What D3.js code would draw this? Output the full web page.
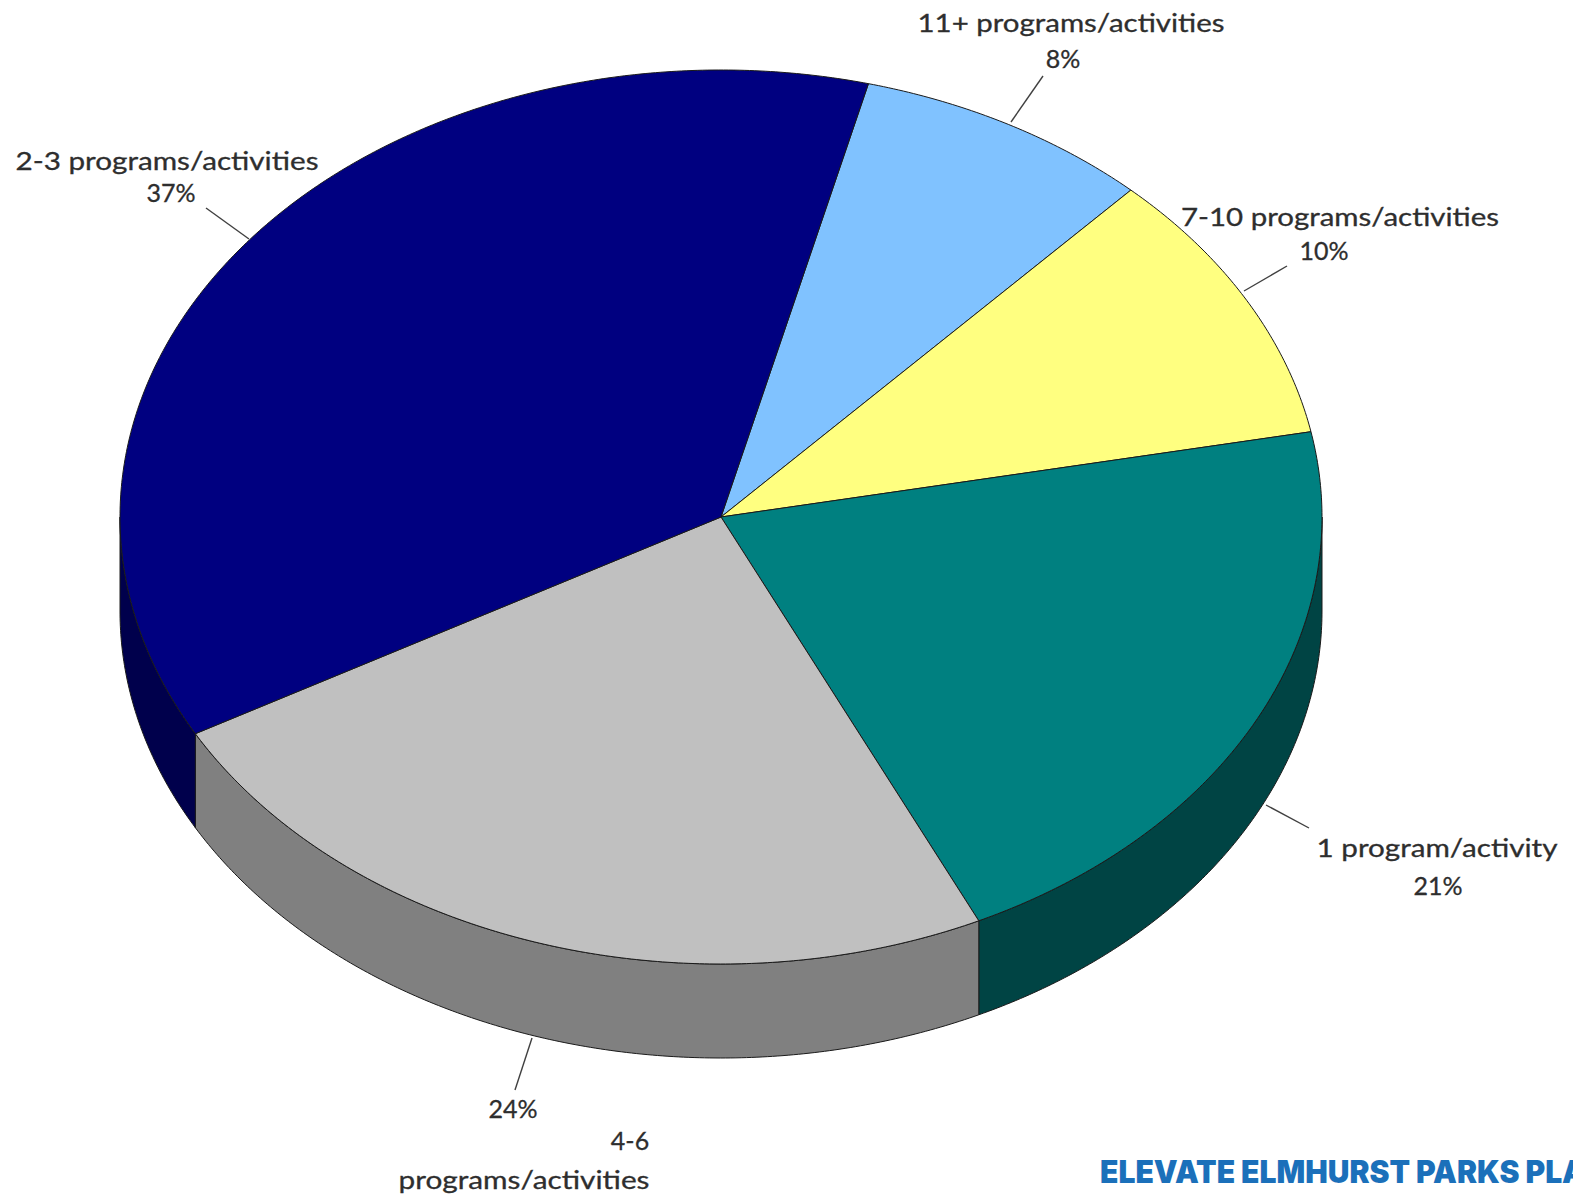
<!DOCTYPE html>
<html><head><meta charset="utf-8">
<script src="https://cdn.jsdelivr.net/npm/d3@7"></script>
<style>html,body{margin:0;padding:0;background:#fff;overflow:hidden}</style>
</head><body>
<svg id="c" width="1573" height="1198"></svg>
<script>
// Data
const categories = ["11+ programs/activities","7-10 programs/activities","1 program/activity","4-6 programs/activities","2-3 programs/activities"];
const values = [8, 10, 21, 24, 37];
const pctLabels = ["8%","10%","21%","24%","37%"];
const topColors = ["#80c2ff","#ffff80","#008080","#c0c0c0","#000080"];
const sideColors = ["#4d7399","#99994d","#004444","#808080","#00004c"];

const svg = d3.select("#c");
const cx = 721, cy = 517, rx = 601, ry = 447, depth = 94;
const startDeg = 14.2;
const start = startDeg * Math.PI / 180;

const pie = d3.pie().sort(null).value(d => d).startAngle(start).endAngle(start + 2*Math.PI);
const arcs = pie(values);

// elliptical projection scales
const sx = d3.scaleLinear().domain([-1,1]).range([cx-rx, cx+rx]);
const sy = d3.scaleLinear().domain([-1,1]).range([cy-ry, cy+ry]);
const px = t => sx(Math.sin(t));
const py = t => sy(-Math.cos(t));

function sample(a, b) {
  const n = Math.max(2, Math.ceil((b - a) / (Math.PI/360)));
  return d3.range(n + 1).map(i => a + (b - a) * i / n);
}
const line = d3.line();

// sides
const g = svg.append("g");
arcs.forEach((d, i) => {
  const ranges = [];
  for (const off of [0, 2*Math.PI]) {
    const lo = Math.max(d.startAngle, Math.PI/2 + off);
    const hi = Math.min(d.endAngle, 3*Math.PI/2 + off);
    if (hi > lo) ranges.push([lo, hi]);
  }
  ranges.forEach(([lo, hi]) => {
    const ts = sample(lo, hi);
    const top = ts.map(t => [px(t), py(t)]);
    const bot = ts.slice().reverse().map(t => [px(t), py(t) + depth]);
    g.append("path").attr("d", line(top.concat(bot)) + "Z")
      .attr("fill", sideColors[i]).attr("stroke", "#1a1a1a").attr("stroke-width", 1).attr("stroke-linejoin","round");
  });
});

// tops
arcs.forEach((d, i) => {
  const ts = sample(d.startAngle, d.endAngle);
  const pts = [[cx, cy]].concat(ts.map(t => [px(t), py(t)]));
  g.append("path").attr("d", line(pts) + "Z")
    .attr("fill", topColors[i]).attr("stroke", "#1a1a1a").attr("stroke-width", 1).attr("stroke-linejoin","round");
});

// labels
const labelLines = [
  [{t: categories[0], x: 1071, y: 32, w: 307}, {t: pctLabels[0], x: 1063, y: 68}],
  [{t: categories[1], x: 1340, y: 226, w: 318}, {t: pctLabels[1], x: 1324, y: 260}],
  [{t: categories[2], x: 1437, y: 857, w: 241}, {t: pctLabels[2], x: 1438, y: 895}],
  [{t: pctLabels[3], x: 513, y: 1118}, {t: "4-6", x: 630, y: 1150}, {t: "programs/activities", x: 524, y: 1189, w: 251}],
  [{t: categories[4], x: 167, y: 170, w: 303}, {t: pctLabels[4], x: 171, y: 202}]
];
const leaders = [
  [[1043, 76], [1011, 122]],
  [[1287, 266], [1244, 291]],
  [[1309, 828], [1266, 805]],
  [[515, 1090], [532, 1038]],
  [[206, 208], [249, 239]]
];
const lg = svg.append("g");
leaders.forEach(l => lg.append("path").attr("d", line(l)).attr("stroke", "#404040").attr("stroke-width", 1.4).attr("fill","none"));
labelLines.forEach(ls => ls.forEach(o => {
  const t = lg.append("text").attr("x", o.x).attr("y", o.y).attr("text-anchor", "middle")
    .attr("font-family", "Lato, 'Open Sans', sans-serif").attr("font-size", 25).attr("fill", "#2e2e2e")
    .attr("stroke", "#2e2e2e").attr("stroke-width", 0.3)
    .text(o.t);
  if (o.w) t.attr("textLength", o.w).attr("lengthAdjust", "spacingAndGlyphs");
}));

// footer
svg.append("text").attr("x", 1100).attr("y", 1183)
  .attr("font-family", "Inter, sans-serif").attr("font-weight", 900).attr("font-size", 31)
  .attr("fill", "#1b70ba").attr("textLength", 486).attr("lengthAdjust", "spacingAndGlyphs")
  .text("ELEVATE ELMHURST PARKS PLA");
</script>
</body></html>
